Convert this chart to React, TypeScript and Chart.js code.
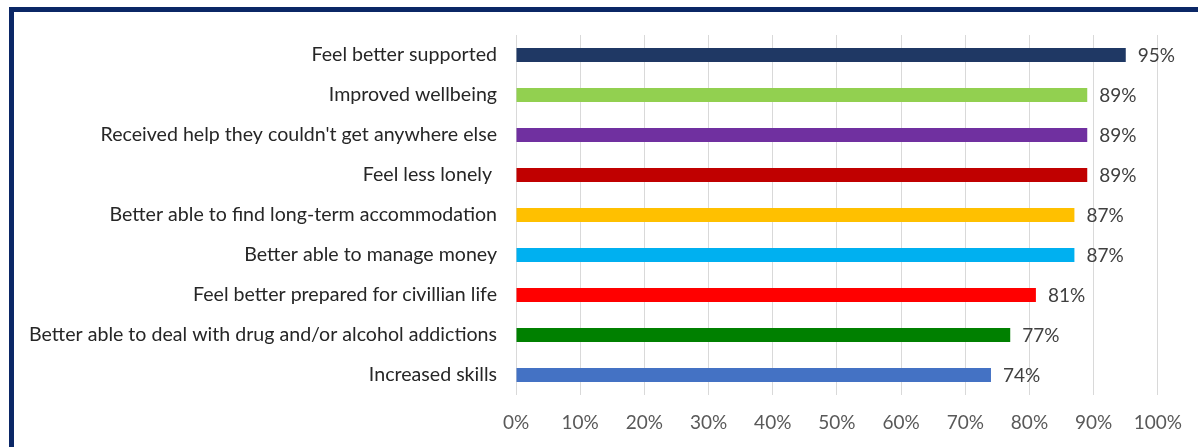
import React, { useEffect, useRef } from "react";
import { Chart, registerables } from "chart.js";

Chart.register(...registerables);

const categories: string[] = [
  "Feel better supported",
  "Improved wellbeing",
  "Received help they couldn't get anywhere else",
  "Feel less lonely ",
  "Better able to find long-term accommodation",
  "Better able to manage money",
  "Feel better prepared for civillian life",
  "Better able to deal with drug and/or alcohol addictions",
  "Increased skills",
];

const values: number[] = [95, 89, 89, 89, 87, 87, 81, 77, 74];

const barColors: string[] = [
  "#1F3864",
  "#92D050",
  "#7030A0",
  "#C00000",
  "#FFC000",
  "#00B0F0",
  "#FF0000",
  "#008000",
  "#4472C4",
];

const FONT = "Lato, 'Noto Sans', sans-serif";

const dataLabelPlugin = {
  id: "dataLabels",
  afterDatasetsDraw(chart: any) {
    const { ctx } = chart;
    const meta = chart.getDatasetMeta(0);
    ctx.save();
    ctx.font = `19px ${FONT}`;
    ctx.fillStyle = "#404040";
    ctx.textAlign = "left";
    ctx.textBaseline = "middle";
    meta.data.forEach((bar: any, i: number) => {
      ctx.fillText(`${values[i]}%`, bar.x + 12, bar.y + 1);
    });
    ctx.restore();
  },
};

export default function App() {
  const canvasRef = useRef<HTMLCanvasElement | null>(null);

  useEffect(() => {
    if (!canvasRef.current) return;
    const chart = new Chart(canvasRef.current, {
      type: "bar",
      data: {
        labels: categories,
        datasets: [
          {
            data: values,
            backgroundColor: barColors,
            borderWidth: 0,
            categoryPercentage: 1,
            barPercentage: 0.35,
          },
        ],
      },
      options: {
        indexAxis: "y",
        animation: false,
        responsive: false,
        maintainAspectRatio: false,
        devicePixelRatio: 1,
        layout: { padding: { top: 35, right: 39, bottom: 0, left: 0 } },
        plugins: {
          legend: { display: false },
          tooltip: { enabled: false },
          title: { display: false },
        },
        scales: {
          x: {
            min: 0,
            max: 100,
            ticks: {
              stepSize: 10,
              callback: (v: any) => `${v}%`,
              color: "#595959",
              font: { family: FONT, size: 19 },
              padding: 16,
              maxRotation: 0,
              autoSkip: false,
            },
            grid: { color: "#D9D9D9", lineWidth: 1, drawTicks: false },
            border: { display: false },
            afterFit: (scale: any) => {
              scale.height = 52;
            },
          },
          y: {
            ticks: {
              color: "#262626",
              font: { family: FONT, size: 19.6 },
              padding: 19,
              autoSkip: false,
            },
            grid: { display: false, drawTicks: false },
            border: { display: false },
            afterFit: (scale: any) => {
              scale.width = 516;
            },
          },
        },
      },
      plugins: [dataLabelPlugin],
    });
    return () => chart.destroy();
  }, []);

  return (
    <div
      style={{
        position: "fixed",
        left: 0,
        top: 0,
        width: 1198,
        height: 447,
        overflow: "hidden",
        background: "#FFFFFF",
      }}
    >
      <canvas
        ref={canvasRef}
        width={1198}
        height={447}
        style={{ position: "absolute", left: 0, top: 0, width: 1198, height: 447 }}
      />
      <div
        style={{
          position: "absolute",
          left: 9,
          top: 7,
          width: 1220,
          height: 470,
          border: "5px solid #0B2766",
          boxSizing: "border-box",
          pointerEvents: "none",
        }}
      />
    </div>
  );
}
